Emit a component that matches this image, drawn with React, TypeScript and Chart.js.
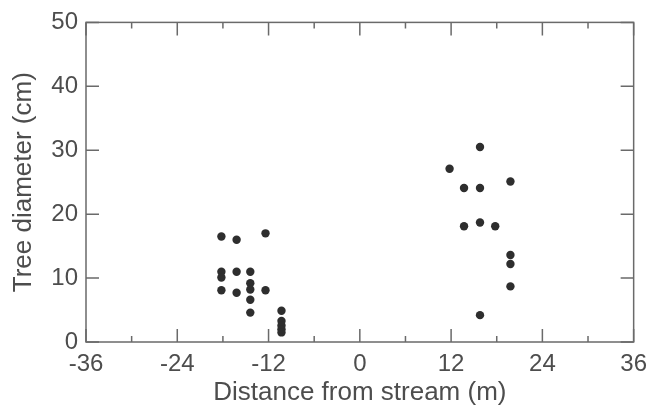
import React, { useEffect, useRef } from "react";
import { Chart, registerables } from "chart.js";

Chart.register(...registerables);

const distance = [
  -18.2, -16.2, -12.4, -18.2, -18.2, -16.2, -14.4, -18.2, -16.2, -14.4, -14.4, -14.4, -14.4, -12.4,
  -10.3, -10.3, -10.3, -10.3, -10.3,
  15.8, 11.8, 13.7, 15.8, 19.8, 13.7, 15.8, 17.8, 19.8, 19.8, 19.8, 15.8,
];
const diameter = [
  16.5, 16.0, 17.0, 11.0, 10.1, 11.0, 11.0, 8.1, 7.7, 9.2, 8.2, 6.6, 4.6, 8.1,
  4.9, 3.3, 2.6, 2.0, 1.5,
  30.5, 27.1, 24.1, 24.1, 25.1, 18.1, 18.7, 18.1, 13.6, 12.2, 8.7, 4.2,
];
const xTicks = [-36, -24, -12, 0, 12, 24, 36];
const yTicks = [0, 10, 20, 30, 40, 50];

const TEXT = "#4d4d4d";
const LINE = "#6a6a6a";

const framePlugin = {
  id: "frame",
  afterDraw(chart: any) {
    const { ctx, chartArea } = chart;
    const { left, right, top, bottom } = chartArea;
    const xs = chart.scales.x;
    const ys = chart.scales.y;
    ctx.save();
    ctx.strokeStyle = LINE;
    ctx.lineWidth = 1.5;
    ctx.strokeRect(left, top, right - left, bottom - top);
    ctx.beginPath();
    const major = 13;
    const minor = 6;
    const xt = xs.ticks.map((t: any) => t.value);
    xt.forEach((v: number, i: number) => {
      const px = xs.getPixelForValue(v);
      ctx.moveTo(px, bottom);
      ctx.lineTo(px, bottom - major);
      ctx.moveTo(px, top);
      ctx.lineTo(px, top + major);
      if (i < xt.length - 1) {
        const mp = xs.getPixelForValue((v + xt[i + 1]) / 2);
        ctx.moveTo(mp, bottom);
        ctx.lineTo(mp, bottom - minor);
        ctx.moveTo(mp, top);
        ctx.lineTo(mp, top + minor);
      }
    });
    ys.ticks.forEach((t: any) => {
      const py = ys.getPixelForValue(t.value);
      ctx.moveTo(left, py);
      ctx.lineTo(left + major, py);
      ctx.moveTo(right, py);
      ctx.lineTo(right - major, py);
    });
    ctx.stroke();
    ctx.restore();
  },
};

export default function App() {
  const ref = useRef<HTMLCanvasElement>(null);
  useEffect(() => {
    if (!ref.current) return;
    const points = distance.map((d, i) => ({ x: d, y: diameter[i] }));
    const chart = new Chart(ref.current, {
      type: "scatter",
      data: {
        datasets: [
          {
            data: points,
            backgroundColor: "#2e2e2e",
            borderColor: "#2e2e2e",
            borderWidth: 0,
            pointRadius: 4.2,
          },
        ],
      },
      options: {
        responsive: false,
        animation: false,
        layout: { padding: { left: 0, right: 19, top: 17, bottom: 0 } },
        plugins: { legend: { display: false }, tooltip: { enabled: false } },
        scales: {
          x: {
            type: "linear",
            min: -36,
            max: 36,
            afterBuildTicks: (s: any) => {
              s.ticks = xTicks.map((v) => ({ value: v }));
            },
            afterFit: (s: any) => {
              s.height = 71;
            },
            grid: { display: false, drawTicks: false },
            border: { display: false },
            ticks: {
              color: TEXT,
              font: { family: "Liberation Sans, Arial, sans-serif", size: 24 },
              padding: 8,
              maxRotation: 0,
              autoSkip: false,
            },
            title: {
              display: true,
              text: "Distance from stream (m)",
              color: TEXT,
              font: { family: "Liberation Sans, Arial, sans-serif", size: 26 },
              padding: { top: 0, bottom: 5 },
            },
          },
          y: {
            type: "linear",
            min: 0,
            max: 50,
            afterBuildTicks: (s: any) => {
              s.ticks = yTicks.map((v) => ({ value: v }));
            },
            afterFit: (s: any) => {
              s.width = 86;
            },
            grid: { display: false, drawTicks: false },
            border: { display: false },
            ticks: {
              color: TEXT,
              font: { family: "Liberation Sans, Arial, sans-serif", size: 24 },
              padding: 8,
              autoSkip: false,
            },
            title: {
              display: true,
              text: "Tree diameter (cm)",
              color: TEXT,
              font: { family: "Liberation Sans, Arial, sans-serif", size: 26 },
              padding: { top: 8, bottom: 0 },
            },
          },
        },
      },
      plugins: [framePlugin],
    } as any);
    return () => chart.destroy();
  }, []);
  return (
    <div style={{ position: "fixed", left: 0, top: 0, width: 655, height: 413, background: "#fff" }}>
      <canvas ref={ref} width={655} height={413} />
    </div>
  );
}
